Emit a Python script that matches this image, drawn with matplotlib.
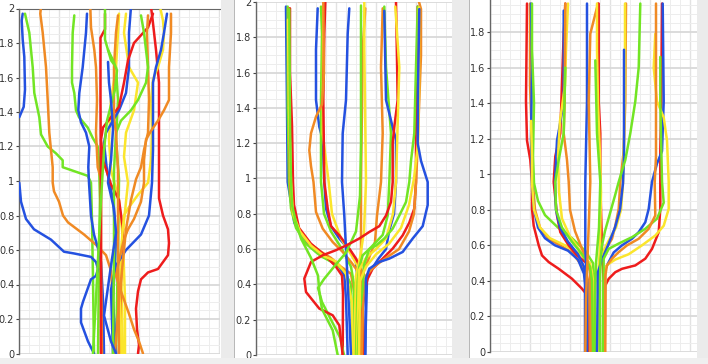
import matplotlib
matplotlib.use("Agg")
import matplotlib.pyplot as plt
from matplotlib.patches import Rectangle
from matplotlib.ticker import MultipleLocator, FuncFormatter

# ---------------------------------------------------------------------------
# Data: x = horizontal offset inside each panel, y = height (0..2)
# ---------------------------------------------------------------------------

PALETTE = {
    "b": "#2451e0",
    "g": "#72e524",
    "o": "#f08a24",
    "y": "#fbe52c",
    "r": "#ee1c1c",
}

P1_COLORS = ["b", "g", "o", "g", "b", "b", "o", "r", "g", "y", "y", "b",
             "r", "r", "y", "b", "o", "o", "g", "o", "g", "b"]
P1_X = [
    [3.7, 2.7, 3.7, 5.3, 6, 4.7, 0.3],
    [6, 10.3, 13.7, 15.3, 20.3, 22, 28.7, 37, 43.7, 43.7, 58.7, 68.7, 72, 73, 74, 75],
    [22, 21.3, 23.7, 27, 28.7, 30.3, 33.7, 33.7, 35, 40, 44, 49, 65, 77, 87, 92, 94, 95],
    [55.3, 53.7, 53, 53, 55.3, 57, 60, 68.7, 73.7, 78.7, 80, 81, 80, 79],
    [68, 67, 63.7, 60.3, 59.3, 62, 67, 70.3, 69.3, 70, 72, 75, 79, 82, 84, 85],
    [0.3, 2, 7, 15, 32, 45, 55, 72, 77, 79, 77, 72, 64, 62, 62, 69, 75],
    [71.3, 72, 75.3, 77, 78, 77, 78.7, 82, 82, 83],
    [86, 86, 81.5, 81.5, 82, 82],
    [86, 86, 88, 92, 97, 99, 97, 100, 99, 97],
    [100, 99, 97, 92, 90, 92, 100, 104, 106, 106],
    [107, 105, 110, 119, 115, 107, 105, 109, 105, 102, 104],
    [112, 110, 110, 107, 100, 94, 87, 85, 88, 94, 97, 94, 97],
    [134, 129, 115, 109, 105, 100, 92, 84, 82, 84, 92, 100, 104, 102, 100],
    [132, 133.7, 137, 140, 140, 140, 140, 144, 149, 150, 149, 139, 129, 122, 119, 117, 118, 120, 119],
    [141, 144, 145, 144, 139, 134, 132, 133, 132, 129, 119, 109, 105, 102, 101, 102],
    [148, 145, 142, 137, 134, 134, 134, 133, 130, 122, 107, 97, 92, 94],
    [152, 152, 150, 150, 145, 139, 132, 127, 125, 125, 122, 115, 109, 105, 102, 99, 97, 102, 110, 115, 120, 124],
    [129, 128, 129, 130, 129, 125, 122, 117, 112, 107, 104, 100, 96],
    [122, 125, 129, 127, 119, 112, 102, 97, 95, 95, 94],
    [99, 97, 95, 95, 97, 99, 99, 100],
    [89, 94, 98, 96, 92, 88, 85, 82, 78, 74],
    [89, 90, 92, 94, 92, 89, 95, 97, 92, 85, 92, 97],
]
P1_Y = [
    [1.97, 1.93, 1.82, 1.72, 1.53, 1.43, 1.37],
    [1.97, 1.86, 1.66, 1.51, 1.37, 1.27, 1.20, 1.16, 1.12, 1.08, 1.05, 1.03, 0.99, 0.77, 0.43, 0],
    [2.01, 1.97, 1.86, 1.66, 1.47, 1.28, 1.08, 0.99, 0.94, 0.88, 0.80, 0.76, 0.69, 0.63, 0.57, 0.48, 0.31, 0],
    [1.96, 1.86, 1.66, 1.57, 1.51, 1.41, 1.37, 1.31, 1.25, 1.20, 1.12, 0.89, 0.54, 0],
    [1.97, 1.86, 1.66, 1.51, 1.41, 1.34, 1.28, 1.20, 1.08, 0.99, 0.80, 0.69, 0.61, 0.53, 0.31, 0],
    [0.99, 0.88, 0.78, 0.72, 0.66, 0.59, 0.58, 0.56, 0.53, 0.49, 0.45, 0.43, 0.30, 0.26, 0.18, 0.07, 0],
    [2.01, 1.89, 1.76, 1.66, 1.47, 1.28, 1.08, 1.01, 0.54, 0],
    [1.97, 1.88, 1.83, 1.47, 0.89, 0],
    [2.01, 1.82, 1.78, 1.70, 1.66, 1.47, 1.24, 1.01, 0.60, 0],
    [1.97, 1.86, 1.66, 1.47, 1.24, 1.06, 0.89, 0.66, 0.31, 0],
    [1.97, 1.86, 1.66, 1.57, 1.41, 1.28, 1.14, 0.99, 0.77, 0.54, 0],
    [2.01, 1.86, 1.66, 1.51, 1.41, 1.35, 1.28, 1.22, 1.06, 0.89, 0.66, 0.31, 0],
    [1.97, 1.89, 1.80, 1.70, 1.57, 1.43, 1.37, 1.31, 1.24, 1.12, 0.98, 0.89, 0.72, 0.43, 0],
    [2.01, 1.93, 1.76, 1.57, 1.28, 0.99, 0.90, 0.80, 0.72, 0.64, 0.57, 0.49, 0.47, 0.43, 0.36, 0.26, 0.14, 0.05, 0],
    [2.01, 1.93, 1.86, 1.76, 1.66, 1.59, 1.47, 1.30, 1.12, 0.99, 0.92, 0.84, 0.80, 0.60, 0.31, 0],
    [1.97, 1.86, 1.76, 1.66, 1.57, 1.35, 1.18, 0.99, 0.80, 0.69, 0.60, 0.51, 0.37, 0],
    [1.97, 1.86, 1.66, 1.47, 1.41, 1.35, 1.29, 1.24, 1.12, 0.99, 0.88, 0.78, 0.72, 0.66, 0.59, 0.51, 0.45, 0.36, 0.23, 0.14, 0.07, 0],
    [1.96, 1.86, 1.66, 1.47, 1.28, 1.18, 1.08, 1.01, 0.89, 0.72, 0.54, 0.31, 0],
    [1.96, 1.86, 1.66, 1.57, 1.47, 1.41, 1.35, 1.28, 1.06, 0.60, 0],
    [1.96, 1.86, 1.66, 1.37, 1.28, 1.06, 0.60, 0],
    [1.76, 1.70, 1.64, 1.53, 1.44, 1.35, 1.18, 0.89, 0.43, 0],
    [1.69, 1.57, 1.47, 1.30, 1.12, 0.99, 0.84, 0.70, 0.51, 0.22, 0.07, 0],
]

P2_COLORS = ["b", "g", "o", "r", "y", "b", "g", "y", "r", "o", "b", "o",
             "g", "y", "o", "g", "b", "r", "y", "r", "o", "g", "y", "b", "g"]
P2_X = [
    [30, 30.7, 31.7, 38.3, 46.7, 60, 73.3, 83.3, 88.3, 90, 91.7],
    [31.7, 31.7, 33, 35, 40, 50, 65, 78, 88, 95, 97],
    [33, 33, 34, 36, 42, 52, 65, 75, 85, 95, 100, 101],
    [34, 34, 36, 37, 38, 43, 55, 70, 80, 86, 87, 86.7],
    [32, 33, 35, 37, 44, 55, 68, 80, 90, 96, 97],
    [61.7, 60, 60, 63.3, 66.7, 68.3, 70, 75, 83.3, 95, 100, 101.7, 100],
    [65, 66, 65, 65, 68, 75, 86, 95, 98, 99],
    [67.3, 66.7, 70, 72.7, 76, 85, 95, 102, 105, 106],
    [69.3, 68.3, 67.3, 68.3, 71.7, 75, 83.3, 93.3, 100, 105, 106.7, 106.7],
    [67.3, 68, 66, 60, 55, 53.3, 55, 57.5, 60, 66.7, 76.7, 86.7, 95, 100, 103.3, 105],
    [93.3, 91.7, 90, 86.7, 86, 88.3, 90, 91.7, 93.3, 95],
    [109.3, 106.7, 105, 105, 105],
    [105, 105, 104, 100, 90, 78, 68, 62, 66, 75, 84, 88],
    [108.3, 108.3, 110, 108, 104, 100, 99, 98],
    [126.7, 125, 126.7, 125, 121, 119, 113, 108, 106, 105],
    [128.3, 130, 135, 133.3, 131.7, 126.7, 120, 113.3, 106.7, 103.3, 101.7, 100],
    [128.3, 130, 136.7, 140, 140, 138, 133, 130, 123, 116, 111, 109],
    [140, 141.7, 138.3, 136.7, 136.7, 135, 130, 123.3, 113.3, 103.3, 90, 80, 66.7, 55, 48.3, 50, 63.3, 76.7, 83.3, 86.7],
    [139.3, 143.3, 140, 137, 130, 120, 110, 103, 101],
    [161.7, 161.7, 160, 160, 158.3, 153.3, 146.7, 136.7, 126.7, 116.7, 111.7, 108.3, 106.7, 108.3],
    [163, 165, 165, 163, 161, 160, 158, 153, 143, 130, 118, 110, 107, 106],
    [161.7, 160, 158.3, 155, 153.3, 150, 143.3, 136.7, 128.3, 120, 113.3, 108, 106.7, 103.3, 101.7],
    [163, 163, 162, 158, 153, 145, 133, 120, 110, 104, 103],
    [163.3, 162, 161.7, 165, 171.7, 171.7, 166.7, 156.7, 146.7, 133.3, 123.3, 113.3, 110, 109.3],
    [33.3, 34, 35, 36, 40, 45, 55, 62, 63.3, 66, 76.7, 81.7],
]
P2_Y = [
    [1.974, 1.59, 0.98, 0.75, 0.66, 0.584, 0.537, 0.5, 0.45, 0.32, 0],
    [1.974, 1.4, 0.98, 0.83, 0.72, 0.63, 0.56, 0.52, 0.48, 0.40, 0],
    [1.964, 1.5, 0.98, 0.83, 0.72, 0.64, 0.585, 0.55, 0.5, 0.46, 0.3, 0],
    [1.964, 1.6, 1.3, 0.98, 0.85, 0.72, 0.63, 0.56, 0.5, 0.45, 0.35, 0],
    [1.9, 1.4, 0.98, 0.8, 0.7, 0.62, 0.56, 0.53, 0.46, 0.3, 0],
    [1.964, 1.73, 1.445, 1.293, 1.22, 0.98, 0.83, 0.73, 0.66, 0.584, 0.527, 0.414, 0],
    [1.974, 1.82, 1.445, 0.98, 0.8, 0.7, 0.6, 0.5, 0.4, 0],
    [1.974, 1.256, 1.1, 0.98, 0.8, 0.66, 0.57, 0.5, 0.4, 0],
    [2.0, 1.82, 1.445, 0.98, 0.83, 0.73, 0.678, 0.603, 0.546, 0.49, 0.414, 0],
    [2.0, 1.6, 1.42, 1.35, 1.256, 1.16, 1.07, 0.98, 0.81, 0.716, 0.64, 0.584, 0.527, 0.489, 0.452, 0],
    [1.964, 1.82, 1.445, 1.256, 0.98, 0.79, 0.603, 0.414, 0.225, 0],
    [1.964, 1.73, 0.98, 0.5, 0],
    [1.98, 1.2, 0.9, 0.7, 0.58, 0.5, 0.43, 0.38, 0.3, 0.2, 0.1, 0],
    [2.0, 1.73, 0.98, 0.7, 0.55, 0.45, 0.2, 0],
    [1.964, 1.63, 1.256, 0.98, 0.79, 0.64, 0.55, 0.48, 0.4, 0],
    [1.974, 1.63, 1.256, 0.98, 0.79, 0.68, 0.64, 0.6, 0.565, 0.5, 0.414, 0],
    [1.95, 1.445, 1.29, 1.22, 0.98, 0.8, 0.7, 0.6, 0.55, 0.49, 0.43, 0],
    [2.0, 1.445, 1.293, 1.2, 0.98, 0.867, 0.79, 0.73, 0.697, 0.66, 0.62, 0.594, 0.565, 0.527, 0.433, 0.357, 0.263, 0.225, 0.168, 0],
    [1.974, 1.63, 0.98, 0.8, 0.66, 0.6, 0.55, 0.48, 0],
    [1.974, 1.63, 1.256, 0.98, 0.83, 0.75, 0.678, 0.603, 0.546, 0.489, 0.433, 0.357, 0.263, 0],
    [2.0, 1.96, 1.7, 1.4, 1.1, 0.98, 0.8, 0.7, 0.6, 0.55, 0.5, 0.45, 0.3, 0],
    [1.974, 1.63, 1.256, 1.1, 0.98, 0.867, 0.79, 0.716, 0.66, 0.62, 0.6, 0.51, 0.38, 0.225, 0],
    [1.97, 1.5, 1.2, 1.0, 0.85, 0.72, 0.63, 0.57, 0.5, 0.42, 0],
    [1.96, 1.5, 1.2, 1.1, 0.98, 0.85, 0.73, 0.66, 0.584, 0.546, 0.527, 0.489, 0.433, 0],
    [1.96, 1.3, 0.98, 0.85, 0.75, 0.66, 0.55, 0.45, 0.36, 0.26, 0.14, 0],
]

P3_COLORS = ["r", "o", "b", "g", "y", "r", "b", "y", "o", "g", "b", "o",
             "r", "y", "g", "o", "y", "b", "g", "r", "b", "y", "g", "o"]
P3_X = [
    [37, 36, 37, 40.3, 42, 42, 43.7, 48.7, 52, 58.7, 68.7, 82, 92, 98.7, 98.7],
    [40, 40, 42, 43, 45, 50, 58, 70, 82, 90, 96, 99, 100],
    [41, 42, 41, 42, 44, 48, 55, 65, 78, 88, 94, 95, 95],
    [42, 42, 44, 43, 44, 48, 55, 68, 82, 95, 103, 104, 104],
    [41, 42, 42, 44, 50, 60, 75, 90, 100, 103, 104],
    [75.3, 73.7, 70.3, 65.3, 63.7, 67, 70.3, 78.7, 87, 95.3, 100.3, 101.3],
    [73.7, 73.7, 69.3, 67, 65, 66, 70, 78, 88, 94, 96, 96],
    [78, 76, 75, 70, 68, 69, 72, 80, 90, 98, 102, 103],
    [75.3, 74.7, 73.7, 77, 78.7, 80, 85, 92, 98, 100, 101],
    [75.3, 73.7, 68.7, 65.3, 66, 72, 82, 92, 100, 102, 103],
    [97, 97, 95.3, 95.3, 97, 97],
    [108, 100.3, 98.7, 100.3, 98, 96, 95.3],
    [108.7, 108.7, 110.3, 110.3, 112, 113.7, 113.7],
    [107, 107, 108, 110, 111, 110, 108, 108],
    [105.3, 107, 110.3, 109, 106, 105, 105],
    [136, 135.3, 133.7, 130.3, 128.7, 125.3, 122, 117, 113.7, 110.3, 109, 109],
    [135, 135, 134, 133, 131, 126, 118, 112, 109, 108.7],
    [134, 134, 134, 133, 130, 125, 118, 112, 108, 107],
    [150.3, 148.7, 145.3, 140.3, 135.3, 128.7, 125, 120, 115, 112, 110.5, 110, 110],
    [172, 171.3, 170.3, 170.3, 170.3, 168.7, 162, 155.3, 145.3, 132, 125.3, 118.7, 115.3, 114.7],
    [172.7, 173.7, 172, 167, 162, 158.7, 155.3, 148.7, 142, 132, 123.7, 118.7, 115.3, 113.7],
    [165.3, 163.7, 167, 173.7, 177, 178.7, 178.7, 173.7, 165.3, 152, 138.7, 125.3, 117, 115.3, 114.7],
    [170.3, 170.3, 172, 173.7, 167, 155.3, 142, 128.7, 118.7, 113.7, 112.7],
    [166, 166, 166, 164.7, 165.3, 158.7, 148.7, 137, 128.7, 122, 117, 115.3, 115.3],
]
P3_Y = [
    [1.96, 1.41, 1.19, 1.08, 0.957, 0.805, 0.71, 0.6, 0.543, 0.506, 0.468, 0.412, 0.356, 0.309, 0],
    [1.96, 1.5, 1.2, 0.95, 0.8, 0.7, 0.64, 0.6, 0.56, 0.5, 0.45, 0.38, 0],
    [1.96, 1.6, 1.2, 0.95, 0.8, 0.7, 0.64, 0.6, 0.57, 0.52, 0.44, 0.38, 0],
    [1.96, 1.7, 1.4, 1.1, 0.95, 0.85, 0.77, 0.7, 0.64, 0.57, 0.5, 0.42, 0],
    [1.3, 1.1, 0.95, 0.8, 0.7, 0.64, 0.6, 0.55, 0.5, 0.4, 0],
    [1.96, 1.79, 1.23, 1.1, 0.957, 0.768, 0.674, 0.6, 0.543, 0.506, 0.468, 0],
    [1.92, 1.41, 1.26, 1.19, 0.957, 0.8, 0.7, 0.62, 0.55, 0.48, 0.4, 0],
    [1.96, 1.7, 1.5, 1.3, 1.1, 0.9, 0.75, 0.65, 0.57, 0.5, 0.45, 0],
    [1.96, 1.41, 1.23, 1.08, 0.957, 0.8, 0.68, 0.58, 0.5, 0.45, 0],
    [1.6, 1.23, 1.08, 0.957, 0.8, 0.7, 0.62, 0.55, 0.48, 0.4, 0],
    [1.96, 1.41, 0.957, 0.58, 0.393, 0],
    [1.96, 1.79, 1.41, 0.957, 0.6, 0.3, 0],
    [1.96, 1.41, 1.23, 0.957, 0.58, 0.393, 0],
    [1.96, 1.7, 1.4, 1.1, 0.9, 0.6, 0.4, 0],
    [1.64, 1.23, 0.957, 0.7, 0.5, 0.3, 0],
    [1.96, 1.41, 1.13, 0.957, 0.805, 0.71, 0.637, 0.59, 0.56, 0.506, 0.4, 0],
    [1.96, 1.5, 1.2, 0.95, 0.8, 0.7, 0.62, 0.55, 0.45, 0],
    [1.7, 1.3, 1.1, 0.95, 0.8, 0.7, 0.6, 0.52, 0.45, 0],
    [1.96, 1.6, 1.41, 1.23, 1.08, 0.957, 0.88, 0.78, 0.68, 0.6, 0.52, 0.4, 0],
    [1.96, 1.41, 1.13, 0.957, 0.805, 0.674, 0.58, 0.525, 0.487, 0.468, 0.449, 0.412, 0.374, 0],
    [1.96, 1.41, 1.13, 1.06, 0.957, 0.805, 0.73, 0.674, 0.637, 0.6, 0.56, 0.506, 0.468, 0],
    [1.79, 1.6, 1.41, 1.32, 1.19, 0.957, 0.805, 0.71, 0.655, 0.6, 0.55, 0.52, 0.49, 0.468, 0],
    [1.66, 1.41, 0.957, 0.84, 0.75, 0.693, 0.646, 0.61, 0.58, 0.525, 0],
    [1.96, 1.4, 1.1, 0.955, 0.768, 0.693, 0.637, 0.6, 0.562, 0.525, 0.487, 0.43, 0],
]

# ---------------------------------------------------------------------------
# Layout (figure pixels)
# ---------------------------------------------------------------------------

W, H = 708, 364


def add_axes_px(fig, left, right, top, bottom):
    return fig.add_axes([left / W, 1 - bottom / H, (right - left) / W, (bottom - top) / H])


def style_panel(ax, xmax, ymax, top_spine=False):
    ax.set_xlim(0, xmax)
    ax.set_ylim(0, ymax)
    ax.xaxis.set_major_locator(MultipleLocator(40))
    ax.xaxis.set_minor_locator(MultipleLocator(10))
    ax.yaxis.set_major_locator(MultipleLocator(0.2))
    ax.yaxis.set_minor_locator(MultipleLocator(0.05))
    ax.grid(which="major", axis="y", color="#d9d9d9", linewidth=1.3)
    ax.grid(which="major", axis="x", color="#e2e2e2", linewidth=1.0)
    ax.grid(which="minor", color="#ededed", linewidth=0.7)
    ax.set_axisbelow(True)
    ax.yaxis.set_major_formatter(FuncFormatter(lambda v, _: f"{v:g}"))
    ax.tick_params(axis="y", which="major", length=2.5, width=0.8, color="#444",
                   labelsize=7, labelcolor="#333", pad=1)
    ax.tick_params(axis="y", which="minor", length=0)
    ax.tick_params(axis="x", which="both", length=0, labelbottom=False)
    for side in ["right", "bottom"]:
        ax.spines[side].set_visible(False)
    ax.spines["top"].set_visible(top_spine)
    ax.spines["top"].set_color("#666")
    ax.spines["left"].set_color("#666")
    ax.spines["left"].set_linewidth(1.0)


def draw_curves(ax, xs, ys, colors):
    for x, y, c in zip(xs, ys, colors):
        ax.plot(x, y, color=PALETTE[c], linewidth=1.8, solid_joinstyle="round",
                solid_capstyle="round", zorder=3)


fig = plt.figure(figsize=(W / 100, H / 100), dpi=100)
fig.patch.set_facecolor("white")

# gray separator strips between the three panels
for x0, x1 in [(221, 234), (452, 469), (697, 708)]:
    fig.patches.append(Rectangle((x0 / W, 0), (x1 - x0) / W, 1, transform=fig.transFigure,
                                 facecolor="#ebebeb", edgecolor="none", zorder=0))
    fig.patches.append(Rectangle((x1 / W, 0), 1.2 / W, 1, transform=fig.transFigure,
                                 facecolor="#b8b8b8", edgecolor="none", zorder=0))
fig.patches.append(Rectangle((0, 0), 1, 6 / H, transform=fig.transFigure,
                             facecolor="#efefef", edgecolor="none", zorder=0))

ax1 = add_axes_px(fig, 19, 220, 8.5, 353.5)
style_panel(ax1, 201, 2.0, top_spine=True)
draw_curves(ax1, P1_X, P1_Y, P1_COLORS)

ax2 = add_axes_px(fig, 256, 452, 2, 355)
style_panel(ax2, 196, 2.0)
draw_curves(ax2, P2_X, P2_Y, P2_COLORS)

ax3 = add_axes_px(fig, 490, 697, 0, 352)
style_panel(ax3, 207, 1.98)
draw_curves(ax3, P3_X, P3_Y, P3_COLORS)

fig.savefig("out.png", dpi=100)
